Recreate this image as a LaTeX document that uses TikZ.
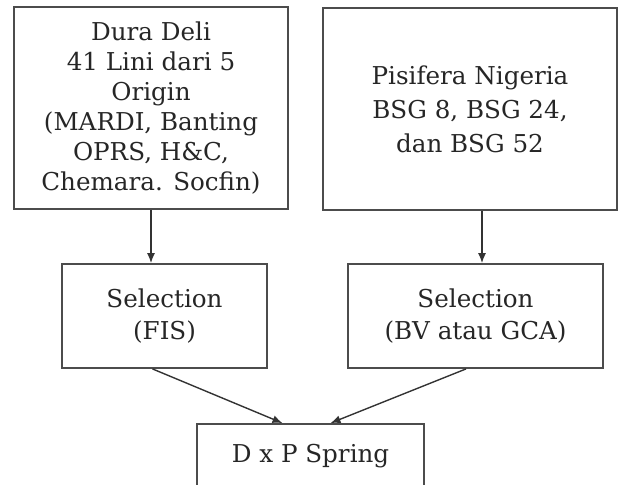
\documentclass[tikz,border=0pt]{standalone}
\usepackage{fontspec}
\setmainfont{DejaVu Serif}
\usetikzlibrary{arrows.meta}

\begin{document}
\begin{tikzpicture}[
x=0.5pt, y=-0.5pt,
every node/.style={draw=black!70, line width=0.9pt, align=center, inner sep=0pt,
  text=black!85, font=\fontsize{12.3}{15}\selectfont},
arr/.style={draw=black!80, line width=0.7pt, -{Latex[length=5pt,width=4pt]}}
]
\useasboundingbox (0,0) rectangle (619,484);
\node[minimum width=137pt, minimum height=101pt] (dura) at (151,108)
  {Dura Deli\\41 Lini dari 5\\Origin\\(MARDI, Banting\\OPRS, H\&C,\\Chemara. Socfin)};
\node[minimum width=147pt, minimum height=101pt, font=\fontsize{12.3}{17}\selectfont] (pisi) at (470,109)
  {Pisifera Nigeria\\BSG 8, BSG 24,\\dan BSG 52};
\node[minimum width=102.5pt, minimum height=52pt, font=\fontsize{12.3}{16}\selectfont] (fis) at (164.5,316)
  {Selection\\(FIS)};
\node[minimum width=127.5pt, minimum height=52pt, font=\fontsize{12.3}{16}\selectfont] (bv) at (475.5,316)
  {Selection\\(BV atau GCA)};
\node[minimum width=113.5pt, minimum height=32pt] (dxp) at (310.5,456)
  {D x P Spring};

\draw[arr] (dura.south) -- (dura.south |- fis.north);
\draw[arr] ([xshift=6pt]pisi.south) -- ([xshift=6pt]pisi.south |- bv.north);
\draw[arr] ([xshift=-6pt]fis.south) -- ([xshift=-14pt]dxp.north);
\draw[arr] ([xshift=-4.75pt]bv.south) -- ([xshift=10pt]dxp.north);
\end{tikzpicture}
\end{document}
